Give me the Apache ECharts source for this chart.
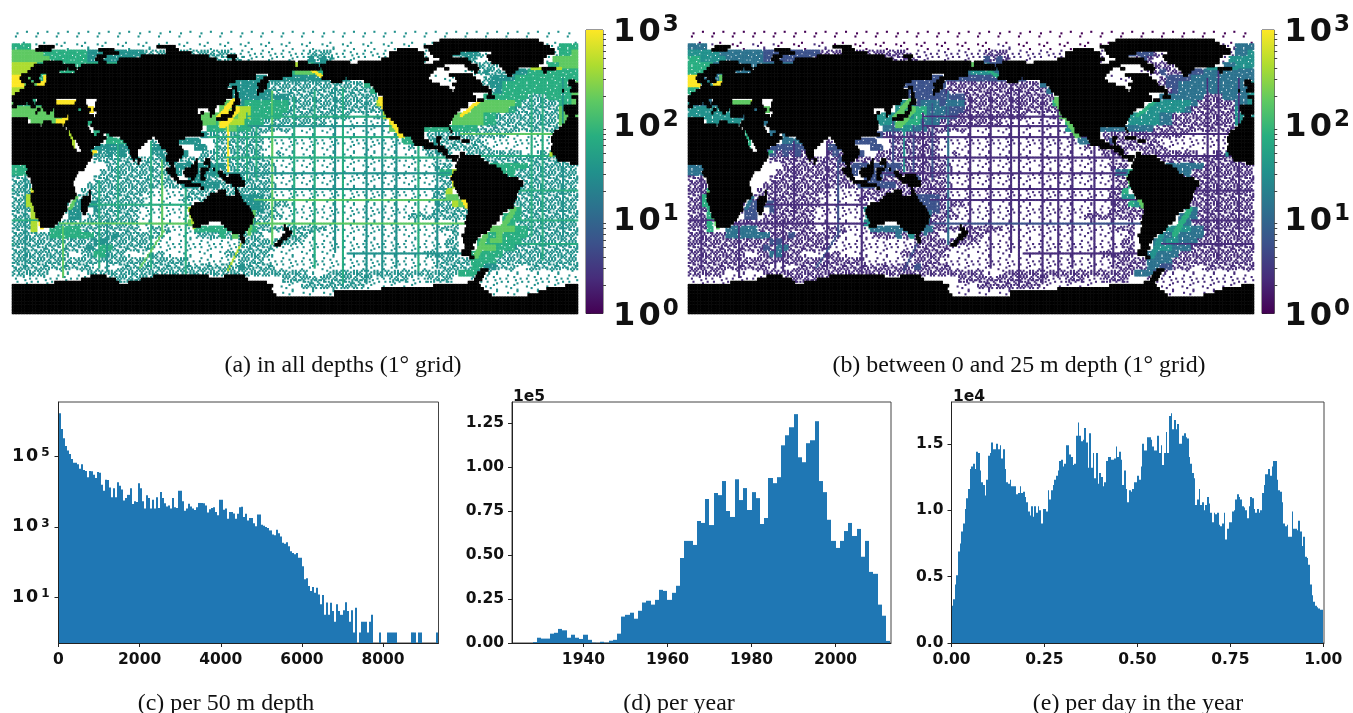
<!DOCTYPE html>
<html><head><meta charset="utf-8">
<style>html,body{margin:0;padding:0;background:#fff}#c{width:1353px;height:713px}</style>
<script src="https://cdn.jsdelivr.net/npm/echarts@6/dist/echarts.min.js"></script>
</head><body><div id="c"></div>
<script>
// ---------- histogram (c): log10(count)*100 per 50 m bin
const depthLog=[623,578,552,530,517,507,493,482,482,478,465,478,462,459,441,459,458,448,439,456,454,420,403,434,433,412,384,410,384,427,417,406,375,382,391,410,365,373,371,424,410,373,352,390,382,352,377,352,384,354,399,382,367,358,361,352,382,356,354,403,403,373,346,352,366,358,352,348,356,368,368,367,361,341,350,354,356,342,333,377,377,349,352,323,342,342,338,323,337,356,357,328,337,318,325,325,310,302,335,335,306,303,300,297,290,278,276,292,282,273,255,252,256,245,231,226,222,226,212,212,188,151,154,132,118,129,113,127,108,80,106,50,85,50,84,61,30,80,61,50,63,86,61,30,63,0,70,null,0,30,30,30,0,30,50,null,null,null,0,null,null,null,0,0,0,0,0,null,null,null,null,null,null,null,0,0,null,0,0,null,null,null,null,null,null,null,0];
// ---------- histogram (d): counts per year in units of 1e5
const firstYear=1928;
const yearCounts=[.005,.03,.025,.025,.053,.058,.08,.072,.03,.047,.03,.023,.047,.018,.002,.001,.007,.002,.013,.018,.053,.15,.16,.172,.138,.183,.23,.24,.218,.245,.302,.296,.245,.285,.325,.483,.58,.58,.557,.693,.682,.818,.67,.852,.84,.92,.75,.716,.93,.812,.88,.755,.857,.823,.676,.71,.937,.908,.942,1.123,1.18,1.225,1.3,1.055,1.027,1.135,1.152,1.26,.92,.857,.7,.58,.54,.58,.636,.682,.608,.648,.49,.58,.404,.393,.218,.155,.012];
// ---------- histogram (e): counts per bin in units of 100
const dayCounts=[28,33,44,51,69,75,84,90,101,109,116,131,133,135,131,144,143,130,121,119,111,123,141,143,151,146,146,150,146,149,139,146,131,121,120,123,118,118,118,112,113,118,113,114,110,106,99,96,103,95,103,98,103,100,90,101,101,99,115,108,115,119,123,126,130,137,138,133,135,149,149,142,140,134,135,156,166,156,152,153,162,151,132,158,132,143,124,143,120,128,125,118,121,137,140,140,138,138,139,148,140,144,138,119,130,116,106,115,114,116,121,121,126,123,133,150,145,145,155,155,153,148,145,145,156,143,149,134,143,159,143,171,173,161,168,161,165,150,150,156,158,155,154,140,135,128,124,104,108,116,104,106,100,104,110,105,98,91,98,97,98,89,88,90,98,78,86,91,91,99,100,108,112,110,108,103,102,100,94,103,110,109,101,98,101,98,100,113,119,127,127,131,126,133,137,137,123,115,114,106,90,88,89,80,80,99,86,86,85,92,84,73,80,65,64,59,44,36,31,28,27,26,25,25];
// ---------- tick labels / captions
const depthTicks=[0,2000,4000,6000,8000], depthLogTicks=[10,1000,100000];
const yearTicks=[1940,1960,1980,2000], yearYTicks=[0,.25,.5,.75,1,1.25];
const dayXTicks=[0,.25,.5,.75,1], dayYTicks=[0,50,100,150];
const captions=[["(a) in all depths (1° grid)",342,349],["(b) between 0 and 25 m depth (1° grid)",1018,349],["(c) per 50 m depth",225,687],["(d) per year",678,687],["(e) per day in the year",1137,687]];
const minorValues=[2,3,4,5,6,7,8,9,20,30,40,50,60,70,80,90,200,300,400,500,600,700,800,900];
const viridis=['#440154','#472d7b','#3b528b','#2c728e','#21918c','#28ae80','#5ec962','#addc30','#fde725'];
// ---------- land rows: latitude band centre (2 deg tall) and lon runs, black cells
const landRows=[[84,"272-335"],[82,"268-338"],[80,"17-27 92-104 262-342"],[78,"15-25 55-65 98-106 245-258 265-345"],[76,"58-68 98-114 240-262 266-285 305-345"],[74,"54-60 82-125 137-143 240-262 268-280 302-340"],[72,"53-58 68-130 140-142 235-265 272-290 303-338"],[70,"20-32 55-60 67-180 182-188 200-215 220-262 268-292 305-338"],[68,"14-40 44-180 182-195 196-275 288-296 310-335"],[66,"12-35 36-41 42-180 180-196 197-270 275-278 290-297 312-322 337-346"],[64,"10-30 40-178 198-268 294-296 314-320 338-340"],[62,"6-18 22-30 30-155 163-178 198-266 278-293 315-318"],[60,"5-10 12-17 22-155 160-172 197-212 213-265 282-295"],[58,"6-12 14-18 22-142 158-163 203-210 224-267 283-298 354-358"],[56,"9-14 21-138 156-162 228-272 280-299 354-360"],[54,"8-20 20-137 140-143 157-162 230-278 282-303 356-360"],[52,"5-140 142-143 156-160 231-280 281-305 350-351 355-360"],[50,"2-140 142-144 156-157 233-293 303-305"],[48,"0-140 142-144 236-295 302-307 356-360"],[46,"0-13 16-28 41-47 54-136 142-145 236-295 296-300 359-360"],[44,"1-9 10-14 15-28 40-47 53-135 141-145 236-290 359-360"],[42,"0-3 12-15 19-28 28-41 41-48 53-127 127-130 140-142 236-290 351-360"],[40,"16-18 20-26 27-42 44-50 52-118 125-129 140-142 236-285 351-360"],[38,"15-16 22-24 27-49 54-118 120-122 126-129 138-141 237-283 352-360"],[36,"27-35 36-52 53-120 126-127 133-140 238-281 354-358"],[34,"0-10 36-51 51-120 130-137 241-280 353-360"],[32,"0-10 20-25 34-48 51-121 243-279 352-360"],[30,"0-18 19-32 33-48 50-121 245-278 350-360"],[28,"0-34 35-49 52-121 246-262 278-279 348-360"],[26,"0-36 37-50 56-120 246-262 279-280 345-360"],[24,"0-36 38-52 54-58 62-120 120-122 249-262 344-360"],[22,"0-37 39-60 69-89 91-110 254-262 270-273 278-285 343-360"],[20,"0-38 41-58 71-86 93-106 255-265 270-272 286-291 343-360"],[18,"0-38 42-56 73-84 94-106 256-268 271-272 344-360"],[16,"0-39 43-52 74-82 95-108 262-275 343-360"],[14,"0-41 44-50 75-80 98-109 271-277 343-360"],[12,"0-43 43-51 75-80 99-109 274-277 285-288 344-360"],[10,"0-51 76-80 98-108 276-284 285-298 346-360"],[8,"0-50 77-78 80-82 98-106 117-118 123-126 280-283 284-300 347-360"],[6,"0-48 80-81 100-103 116-118 122-126 283-303 355-360"],[4,"9-47 101-103 114-118 125-126 282-308"],[2,"10-46 98-104 110-118 120-125 128-129 283-311"],[0,"9-42 99-104 109-118 120-123 131-134 281-312"],[-2,"10-41 101-105 110-117 120-122 132-136 138-145 280-315"],[-4,"12-40 103-106 114-116 120-123 134-146 279-322"],[-6,"12-39 105-114 136-148 281-325"],[-8,"13-39 110-120 140-148 281-325"],[-10,"13-40 120-122 142-143 282-323"],[-12,"14-40 49-50 131-136 142-144 283-322"],[-14,"12-41 49-50 126-136 142-145 284-321"],[-16,"12-40 45-50 124-146 285-321"],[-18,"12-37 44-50 122-147 289-320"],[-20,"13-35 44-49 116-149 290-319"],[-22,"14-35 44-48 114-151 290-319"],[-24,"14-35 44-48 113-152 290-315"],[-26,"15-33 45-47 113-153 290-312"],[-28,"15-32 114-154 289-310"],[-30,"17-31 115-153 289-310"],[-32,"18-29 116-125 133-153 288-308"],[-34,"18-27 115-120 135-151 173-174 289-305"],[-36,"137-150 173-176 288-304"],[-38,"140-148 174-178 288-302"],[-40,"145-147 172-177 286-298"],[-42,"145-148 171-175 287-296"],[-44,"146-148 169-172 287-295"],[-46,"167-171 288-293"],[-48,"288-294"],[-50,"286-292"],[-52,"286-292"],[-54,"291-294"],[-62,"298-303"],[-64,"296-301"],[-66,"50-60 90-125 135-148 295-300"],[-68,"44-66 82-150 294-299"],[-70,"27-68 74-162 290-297"],[-72,"0-166 268-298 352-360"],[-74,"0-165 235-300 340-360"],[-76,"0-166 205-303 335-360"],[-78,"0-168 205-305 328-360"],[-80,"0-360"],[-82,"0-360"],[-84,"0-360"],[-86,"0-360"],[-88,"0-360"],[-90,"0-360"]];
// ---------- ocean blocks, 4 deg each, one row per 4 deg from 90N; groups of 10 blocks = 40 deg.
// digit = level filled, lower case = same level partly covered (a=1..i=9), upper case = sparse, ~ = isolated cells
const blank="~~~~~~~~~~ ~~~~~~~~~~ ~~~~~~~~~~ ~~~~~~~~~~ ~~~~~~~~~~ ~~~~~~~~~~ ~~~~~~~~~~ ~~~~~~~~~~ ~~~~~~~~~~";
const oceanA=[blank,blank,
"666EEE~~~~ EEEE~~~~~~ EE~~~~~~~~ ~~~~~~~~~~ ~~~~~~~~EE EE~~~~~~~~ ~~~~~~~~~~ ~~~~~~~~~~ ~~~~EEE666",
"7777766666 6655555555 5eeeeeeeee eeeeeEEEEE EEEEEEEeee eEEEEEEEEE EEEEEE.... 5555eEEEE. ....EEE667",
"7777776666 6655555555 eeeeeeeeee eeeeeeeEEE EEEEEEE5e5 eEEEEEE.EE EEEEEE.... EE5eEE.... .....E7777",
"8888666666 6666666666 666666666e eeeeeeeeee eeeee86655 eee....... .......... ...eeeeEEE ....E66777",
"8886666666 6666666666 .......... .......... ...6677766 ee........ .......... ..Eee5eee5 5566666666",
"9976699966 .......... .......... .....55555 5555555555 5555...... .......EEE EE...e5555 6666666666",
"9977999666 .......... .......... ....555555 5eeeeeeeee eeeeee6... .......... ...eee5566 6666666667",
"8877799666 .......... .......... .....55555 5eeeeeeeee eeeeeee6.. .......... ......e566 6666666667",
"8866666... .......... .......... .....55555 5555eeeeee eeeeeeeee7 7......... .....66666 66eee66667",
"7666666999 9.....e... .......... ...7775666 6666eeeeee eeeeeeee88 .......... ....777777 6eeeeee667",
"7777777666 669.ee.... .......... ...7778866 6666eeeeee eeeeeeeee8 8......... ...7777776 eeeeeee776",
"7777777799 9.....e... .......... 7777778866 666eeeeeee eeeeEEEEe8 8......... 7777766eee eeeeeee777",
"...7777999 ..6....... .......... 7778888666 eeeeeeeeee EEEEEEEEEE 88........ 7777766eee eeeeeee777",
".........8 ...66..... .......... .6667766ee eeeeEEEEEE EEEEEEEEEE 77...66666 6666eeeeee eeeeeeeee6",
".........8 ...6.6.... .......... 5eeeeeeeee EEEEEEEEEE EEEEEEEEEE E66...eeee eeeeeeeeeE EEEEEEeee6",
".........8 .....66666 ..e...5555 ..eeeeeeee EEEEEEEEEE EEEEEEEEEE EE66..e5ee eeeeeEEEEE EEEEEEEee6",
".........8 .55555555e ..555....5 5.eeeeeeee EEEEEEEEEE EEEEEEEEEE EEEe.eeeee eeeeeeEEEE EEEEEEee66",
".......... ..e5e5e5e5 ..e5e5e5.. eeeeeeeeee EEeEEEEEEE EEEEEEEEEE EEEEEEeeee ..eeeeeeee eEEEeeee6.",
".......... ...eeeeeee eeee55eeee eeeeeeeeee eEEEEEEEEE EEEEEEEEEE EEEEEEEEEe ..6eeeeeee eeeeeeeee6",
"6666...... .....eeeee eeeeee5555 5555eeeeee eeEEEEEEEE EEEEEEEEEE EEEEEEEeee ....ee6666 66eeeeeeee",
"6666...... ....eeeeee eeeeee5.55 555eeeeeee eeEEEEEEEE EEEEEEEEEE EEEEEEEE66 8...ee6666 eeeeeeeeee",
"eeee...... ...eeeeeee eeeeee..55 5eeeee5eee eEEEEEEEEE EEEEEEEEEE EEEEEEEEee 8.......e6 eeeeeeeeee",
"eee....... ..eeeeeeee eeeeeee555 555eeeeeee eeEEEEEEEE EEEEEEEEEE EEEEEEEEee 88.......e eeeeeeeeee",
"eee8...... .eeeeeeeee eeEEEEEEee eeeeeeeeee eEEEEEEEEE EEEEEEEEEE EEEEEEEee8 .........e eeeeeeeeee",
"ee88...... eeeeeeeeee eEEEEEEeee eeeeee5555 eeEEEEEEEE EEEEEEEEEE EEEEEEEee7 7.......ee eeeeeeeeee",
"ee88...ee. 5.55eeeeee eEEEEEEEEE eeee..5555 eeeeEEEEEE EEEEEEEEEE EEEEEEEeee 877......e eeeeeeeeee",
"eee8....e5 5..5eeeeee EEEEEEEEEE EE.....555 eeEEEEEEEE EEEEEEEEEE EEEEEEEeee eee7.....6 6eeeeeeeee",
"eee8.....5 5.eeeeeeee EEEEEEEEEe .......eee eeeEEEEEEE EEEEEEEEEE EEEeeeeeee eee.....66 6eeeeeeeee",
"eee8...eee eeeeeeeeee EEEEEEEE7. .......6ee eEEEEEEEEE EEEEEEEEEE EEEEEEEEEE e.......66 eeeeeeeeee",
"eee8..6666 6eeeeeeeee EEeeeEEEE6 666666666e eeeeeeeeee EEEEEEEEEE EEEEEEEEee e.....7777 66eeeeeeee",
"eeeeee6666 666eee5eee eeeeEEEEEe eee6e7eeee ...eeeeEEE EEEEEEEEEE EEEEEEEEEE eE...66766 66eeeeeeee",
"eeeeeeeeee eee55eeeee eeEEEEEEEE EEEEEEeeee eeeeeeEEEE EEEEEEEEEE EEEEEEEEEe e...667766 6eeeeeeeee",
"eeeeeeeeee ee5e66eeee eeEEEEEEEE EEEEEEeeee eeEEEEEEEE EEEEEEEEEE EEEEEEEEEe e...677666 eeeeeeeeee",
"eeeeeeeeeE Eee66eeeEE EEeeEEEEEE EEEEeeeeee eEEEEEEEEE EEEEEEEEEE EEEEEEeeee e..66666ee eeeeeeeeee",
"eeeeeeeeee eeeeeeeeee eeeeeeeeEE EEEEEEeeee EEEEEEEEEE EEEEEEEEEE EEEEEEEEee eee6666eee eeeeeeeeee",
"eeeeeeeeee eeeEEEEeee eeeeeeeeee eeeeee5eee eeEEEEEEEE EEEEEEEEEE EEEEEEEEee eee6655eee EEeeeeeeee",
"eeeeeeEEEE EEeeeeeeee eeeeeeeeee eeeeeeeeee eeeeeeeEEE eeeeeeeeee eeeeeeeeee e6665eEEEE EEEEEEEEEE",
"EEEEEEEEEE EEEEeeeeee eee....... .......... ...eeeeeee eeeeeeeEEE eeeEEEeeee ...eEEEEEE EEEEEEEEEE",
"EEEEEEEE.. .......... .......... .......... ..EEEEeeee eeeeeeEEEE EEEEE..... ..EEEEEEEE EEEEEEEEEE",
".......... .......... .......... .......... ..EEEEEEEE EE........ .......... ....EEEEEE EEEEEE...."];
const oceanB=[blank,blank,
"444BBB~~~~ BBBB~~~~~~ BB~~~~~~~~ ~~~~~~~~~~ ~~~~~~~~BB BB~~~~~~~~ ~~~~~~~~~~ ~~~~~~~~~~ ~~~~BBB444",
"5555544444 4433333333 3bbbbbbbbb bbbbbBBBBB BBBBBBBbbb bBBBBBBBBB BBBBBB.... 3333bBBBB. ....BBB445",
"6655554444 4433333333 bbbbbbbbbb bbbbbbbBBB BBBBBBB3b3 bBBBBBB.BB BBBBBB.... BB3bBB.... .....B5555",
"6666444444 4444444444 444444444b bbbbbbbbbb bbbbb74433 bbb....... .......... ...bbbbBBB ....B44555",
"6664444444 4444444444 .......... .......... ...4455544 bb........ .......... ..Bbb3bbb3 3344444444",
"9944477744 .......... .......... .....33333 3333333333 3333...... .......BBB BB...b3333 4444444444",
"9955999444 .......... .......... ....333333 3bbbbbbbbb bbbbbb4... .......... ...bbb3344 4444444445",
"6655788444 .......... .......... .....33333 3bbbbbbbbb bbbbbbb4.. .......... ......b344 4444444445",
"6644444... .......... .......... .....33333 3333bbbbbb bbbbbbbbb5 5......... .....44444 44bbb44445",
"5444444777 8.....b... .......... ...5553444 3444bbbbbb bbbbbbbb66 .......... ....555555 4bbbbbb445",
"5555555444 447.bb.... .......... ...5556644 4333bbbbbb bbbbbbbbb7 7......... ...5555554 bbbbbbb554",
"5555555544 5.....b... .......... 5555556644 433bbbbbbb bbbbBBBBb7 7......... 5555544bbb bbbbbbb555",
"...5555555 ..4....... .......... 5556666444 bbbbbbbbbb BBBBBBBBBB 66........ 5555544bbb bbbbbbb555",
".........6 ...44..... .......... .4445544bb bbbbBBBBBB BBBBBBBBBB 55...44444 4444bbbbbb bbbbbbbbb4",
".........6 ...4.4.... .......... 3bbbbbbbbb BBBBBBBBBB BBBBBBBBBB B44...bbbb bbbbbbbbbB BBBBBBbbb4",
".........6 .....44444 ..b...3333 ..bbbbbbbb BBBBBBBBBB BBBBBBBBBB BB44..b3bb bbbbbBBBBB BBBBBBBbb4",
".........6 .33333333b ..333....3 3.bbbbbbbb BBBBBBBBBB BBBBBBBBBB BBBb.bbbbb bbbbbbBBBB BBBBBBbb44",
".......... ..b3b3b3b3 ..b3b3b3.. bbbbbbbbbb BBbBBBBBBB BBBBBBBBBB BBBBBBbbbb ..bbbbbbbb bBBBbbbb4.",
".......... ...bbbbbbb bbbb33bbbb bbbbbbbbbb bBBBBBBBBB BBBBBBBBBB BBBBBBBBBb ..4bbbbbbb bbbbbbbbb4",
"4444...... .....bbbbb bbbbbb3333 3333bbbbbb bbBBBBBBBB BBBBBBBBBB BBBBBBBbbb ....bb4444 44bbbbbbbb",
"4444...... ....bbbbbb bbbbbb3.33 333bbbbbbb bbBBBBBBBB BBBBBBBBBB BBBBBBBB44 6...bb4444 bbbbbbbbbb",
"bbbb...... ...bbbbbbb bbbbbb..33 3bbbbb3bbb bBBBBBBBBB BBBBBBBBBB BBBBBBBBbb 6.......b4 bbbbbbbbbb",
"bbb....... ..bbbbbbbb bbbbbbb333 333bbbbbbb bbBBBBBBBB BBBBBBBBBB BBBBBBBBbb 66.......b bbbbbbbbbb",
"bbb6...... .bbbbbbbbb bbBBBBBBbb bbbbbbbbbb bBBBBBBBBB BBBBBBBBBB BBBBBBBbb6 .........b bbbbbbbbbb",
"bb66...... bbbbbbbbbb bBBBBBBbbb bbbbbb3333 bbBBBBBBBB BBBBBBBBBB BBBBBBBbb5 5.......bb bbbbbbbbbb",
"bb66...bb. 3.33bbbbbb bBBBBBBBBB bbbb..3333 bbbbBBBBBB BBBBBBBBBB BBBBBBBbbb 655......b bbbbbbbbbb",
"bbb6....b3 3..3bbbbbb BBBBBBBBBB BB.....333 bbBBBBBBBB BBBBBBBBBB BBBBBBBbbb bbb5.....4 4bbbbbbbbb",
"bbb6.....3 3.bbbbbbbb BBBBBBBBBb .......bbb bbbBBBBBBB BBBBBBBBBB BBBbbbbbbb bbb.....44 4bbbbbbbbb",
"bbb6...bbb bbbbbbbbbb BBBBBBBB5. .......4bb bBBBBBBBBB BBBBBBBBBB BBBBBBBBBB b.......44 bbbbbbbbbb",
"bbb6..4444 4bbbbbbbbb BBbbbBBBB4 444444444b bbbbbbbbbb BBBBBBBBBB BBBBBBBBbb b.....5555 44bbbbbbbb",
"bbbbbb4444 444bbb3bbb bbbbBBBBBb bbb4b5bbbb ...bbbbBBB BBBBBBBBBB BBBBBBBBBB bB...44544 44bbbbbbbb",
"bbbbbbbbbb bbb33bbbbb bbBBBBBBBB BBBBBBbbbb bbbbbbBBBB BBBBBBBBBB BBBBBBBBBb b...445544 4bbbbbbbbb",
"bbbbbbbbbb bb3b44bbbb bbBBBBBBBB BBBBBBbbbb bbBBBBBBBB BBBBBBBBBB BBBBBBBBBb b...455444 bbbbbbbbbb",
"bbbbbbbbbB Bbb44bbbBB BBbbBBBBBB BBBBbbbbbb bBBBBBBBBB BBBBBBBBBB BBBBBBbbbb b..44444bb bbbbbbbbbb",
"bbbbbbbbbb bbbbbbbbbb bbbbbbbbBB BBBBBBbbbb BBBBBBBBBB BBBBBBBBBB BBBBBBBBbb bbb4444bbb bbbbbbbbbb",
"bbbbbbbbbb bbbBBBBbbb bbbbbbbbbb bbbbbb3bbb bbBBBBBBBB BBBBBBBBBB BBBBBBBBbb bbb4433bbb BBbbbbbbbb",
"bbbbbbBBBB BBbbbbbbbb bbbbbbbbbb bbbbbbbbbb bbbbbbbBBB bbbbbbbbbb bbbbbbbbbb b4443bBBBB BBBBBBBBBB",
"BBBBBBBBBB BBBBbbbbbb bbb....... .......... ...bbbbbbb bbbbbbbBBB bbbBBBbbbb ...bBBBBBB BBBBBBBBBB",
"BBBBBBBB.. .......... .......... .......... ..BBBBbbbb bbbbbbBBBB BBBBB..... ..BBBBBBBB BBBBBBBBBB",
".......... .......... .......... .......... ..BBBBBBBB BB........ .......... ....BBBBBB BBBBBB...."];
// ---------- ship tracks and hot coasts: lon0,lat0,lon1,lat1, levelA, levelB, width
const tracks=[[130,34,130,-2,6,3,1],[137,33,137,0,9,5,1],[143,30,143,-4,6,3,1],[149,38,149,-4,6,2,1],[155,44,155,-4,6,3,1],[165,52,165,-45,7,4,1],[179,48,179,-40,6,2,1],[192,52,192,-60,6,2,1],[205,56,205,-50,5,2,1],[210,54,210,-70,6,2,1],[225,50,225,-70,5,2,1],[235,48,235,-66,5,2,1],[244,30,244,-60,5,2,1],[258,18,258,-62,6,2,1],[270,14,270,-60,5,2,1],[330,60,330,-40,6,2,1],[337,65,337,-55,6,2,1],[350,60,350,-40,5,2,1],[55,-5,55,-60,6,2,1],[67,20,67,-30,6,2,1],[88,20,88,-60,6,2,1],[95,8,95,-40,7,3,1],[110,-10,110,-66,6,2,1],[32,-34,32,-66,7,2,1],[60,-30,60,-62,5,2,1],[8,-5,8,-60,5,2,1],
[150,36,238,36,6,2,1],[150,30,240,30,5,2,1],[125,23,255,23,6,2,1],[135,10,282,10,6,2,1],[120,0,278,0,5,2,1],[150,-10,276,-10,5,2,1],[154,-17,288,-17,7,2,1],[155,-32,288,-32,7,3,1],[30,-32,113,-32,7,2,1],[45,-20,112,-20,6,2,1],[214,-51,288,-51,5,2,1],[285,25,345,25,7,2,1],[295,11,345,11,6,2,1],[310,-11,360,-11,6,2,1],[320,-30,360,-30,6,2,1],[0,-30,17,-30,6,2,1],[300,-45,360,-45,6,2,1],
[96,-37,81,-60,7,3,1],[146,-43,137,-62,8,3,1],[12,-12,18,-34,9,7,2],[112,-22,115,-34,8,5,2],[153,-24,150,-38,7,4,2],[233,48,246,26,9,7,4],[279,-2,288,-20,9,7,3],[141,42,132,32,9,7,4],[130,36,140,47,9,7,3],[318,-22,308,-38,7,6,3],[300,-38,294,-52,7,5,3],[190,66,196,62,9,6,2],[285,37,297,47,9,6,2],[330,67,348,67,8,5,2],[346,27,342,12,8,5,2],[36,-22,40,-15,7,4,2],[44,12,52,14,9,6,2]];
// hand-written coverage tile used to place the partly covered blocks' cells
const coverTile=["7395182640731","2860417395826","5193726084157","8406351972604","3172948506239","6950283714860","1847569230475","9236714085192","4508392617348","7163805942516","2795146380927"];

const lvl=d=>(d-1)*3/8;
function buildMap(ocean,levIdx,dotLevel){
  const cells=new Float32Array(64800).fill(NaN);
  const isLand=new Uint8Array(64800);
  ocean.forEach((s,r)=>{
    s.split(' ').forEach((g,gi)=>{
      for(let b=0;b<10;b++){
        const ch=g[b]; if(!ch||ch==='.')continue;
        let level,lim,dot=false;
        if(ch==='~'){level=dotLevel;lim=1;dot=true;}
        else if(ch>='1'&&ch<='9'){level=+ch;lim=+ch>=7?10:9;}
        else if(ch>='a'&&ch<='i'){level=ch.charCodeAt(0)-96;lim=4;}
        else {level=ch.charCodeAt(0)-64;lim=1;}
        for(let i=0;i<4;i++)for(let j=0;j<4;j++){
          const lon=(gi*10+b)*4+i,row=r*4+j;
          if(+coverTile[row%11][lon%13]<lim&&(!dot||+coverTile[(row+4)%11][(lon+5)%13]<4))cells[row*360+lon]=lvl(level);
        }
      }
    });
  });
  tracks.forEach(t=>{
    const n=Math.max(Math.abs(t[2]-t[0]),Math.abs(t[3]-t[1]));
    for(let i=0;i<=n;i++){
      const lon=Math.round(t[0]+(t[2]-t[0])*i/n),row=Math.round(90-(t[1]+(t[3]-t[1])*i/n));
      for(let k=0;k<t[6];k++)for(let m=0;m<t[6];m++){
        const r=Math.min(179,Math.max(0,row+m));
        cells[r*360+((lon+k)%360)]=lvl(t[levIdx]);
      }
    }
  });
  landRows.forEach(([lat,runs])=>{
    const r0=Math.max(0,90-(lat+1));
    for(let r=r0;r<r0+2&&r<180;r++)runs.split(' ').forEach(run=>{
      const [a,b]=run.split('-').map(Number);
      for(let lon=a;lon<b;lon++)isLand[r*360+lon]=1;
    });
  });
  const sea=[],land=[];
  for(let r=0;r<180;r++)for(let c=0;c<360;c++){
    if(isLand[r*360+c])land.push([c,r,1]);
    else{const v=cells[r*360+c];if(!isNaN(v))sea.push([c,r,v]);}
  }
  return {sea,land};
}
const lonCats=Array.from({length:360},(_,i)=>i),rowCats=Array.from({length:180},(_,i)=>i);
const TICK='"DejaVu Sans",sans-serif';
const tickStyle={fontFamily:TICK,fontWeight:'bold',fontSize:15.5,color:'#111'};
const line={lineStyle:{color:'#222',width:1}};
const chart=echarts.init(document.getElementById('c'),null,{renderer:'canvas'});

const grids=[{left:12,top:31,width:566,height:283},{left:586,top:30,width:17,height:283.5,show:true,borderColor:'#333',borderWidth:1},
{left:688,top:31,width:566,height:283},{left:1262,top:30,width:17,height:283.5,show:true,borderColor:'#333',borderWidth:1},
{left:58.5,top:402,width:380,height:241,show:true,borderColor:'#444',borderWidth:1},
{left:512,top:402,width:379,height:241,show:true,borderColor:'#444',borderWidth:1},
{left:951.5,top:402,width:372.5,height:241,show:true,borderColor:'#444',borderWidth:1}];
const hide={show:false};
const cbY=(g)=>({gridIndex:g,type:'value',min:0,max:3,interval:1,position:'right',axisLine:hide,splitLine:hide,axisTick:{length:5,lineStyle:{color:'#222'}},
  axisLabel:{margin:10,padding:[6,0,0,0],formatter:v=>`{b|1\u200a0}{s|${v}}`,rich:{b:{fontFamily:TICK,fontWeight:'bold',fontSize:32,color:'#111'},s:{fontFamily:TICK,fontWeight:'bold',fontSize:23,color:'#111',padding:[0,0,15,2]}}}});
const xAxis=[
 {gridIndex:0,type:'category',data:lonCats,show:false},
 {gridIndex:1,type:'value',min:0,max:1,show:false},
 {gridIndex:2,type:'category',data:lonCats,show:false},
 {gridIndex:3,type:'value',min:0,max:1,show:false},
 {gridIndex:4,type:'value',min:0,max:9366,splitLine:hide,axisLine:{onZero:false,...line},axisTick:{length:4,customValues:depthTicks,...line},axisLabel:{...tickStyle,margin:9,customValues:depthTicks,formatter:v=>String(v)}},
 {gridIndex:5,type:'value',min:1923,max:2013.2,splitLine:hide,axisLine:{onZero:false,...line},axisTick:{length:4,customValues:yearTicks,...line},axisLabel:{...tickStyle,margin:9,customValues:yearTicks,formatter:v=>String(v)}},
 {gridIndex:6,type:'value',min:0,max:1.002,splitLine:hide,axisLine:{onZero:false,...line},axisTick:{length:4,customValues:dayXTicks,...line},axisLabel:{...tickStyle,margin:9,customValues:dayXTicks,formatter:v=>v.toFixed(2)}}];
const yAxis=[
 {gridIndex:0,type:'category',data:rowCats,inverse:true,show:false},cbY(1),
 {gridIndex:2,type:'category',data:rowCats,inverse:true,show:false},cbY(3),
 {gridIndex:4,type:'log',min:0.5,max:3.55e6,splitLine:hide,minorTick:hide,axisLine:line,axisTick:{length:4,customValues:depthLogTicks,...line},
  axisLabel:{margin:9,customValues:depthLogTicks,formatter:v=>`{b|1\u200a0}{s|${Math.round(Math.log10(v))}}`,rich:{b:{...tickStyle,fontSize:17.5},s:{...tickStyle,fontSize:12,padding:[0,0,7,3]}}}},
 {gridIndex:5,type:'value',min:0,max:136900,splitLine:hide,axisLine:line,axisTick:{length:4,customValues:yearYTicks.map(v=>v*1e5),...line},axisLabel:{...tickStyle,margin:8,customValues:yearYTicks.map(v=>v*1e5),formatter:v=>(v/1e5).toFixed(2)}},
 {gridIndex:6,type:'value',min:0,max:18150,splitLine:hide,axisLine:line,axisTick:{length:4,customValues:dayYTicks.map(v=>v*100),...line},axisLabel:{...tickStyle,margin:8,customValues:dayYTicks.map(v=>v*100),formatter:v=>(v/1e4).toFixed(1)}}];
const stops=viridis.map((c,i)=>({offset:i/8,color:c}));
const gradientBar=i=>({type:'custom',xAxisIndex:i,yAxisIndex:i,silent:true,data:[[0,0]],renderItem:(p,api)=>{const a=api.coord([0,3]),b=api.coord([1,0]);
  return {type:'rect',shape:{x:a[0],y:a[1],width:b[0]-a[0],height:b[1]-a[1]},style:{fill:new echarts.graphic.LinearGradient(0,1,0,0,stops)}};}});
const minorBar=i=>({type:'custom',xAxisIndex:i,yAxisIndex:i,silent:true,clip:false,data:minorValues.map(v=>[1,Math.log10(v)]),renderItem:(p,api)=>{const a=api.coord([api.value(0),api.value(1)]);
  return {type:'line',shape:{x1:a[0],y1:Math.round(a[1])+.5,x2:a[0]+3,y2:Math.round(a[1])+.5},style:{stroke:'#444',lineWidth:1}};}});
const BLUE='#1f77b4';
const heat=(i,data)=>({type:'heatmap',xAxisIndex:i,yAxisIndex:i,data,progressive:0,silent:true,itemStyle:{borderWidth:0}});
// histogram bars: bin start, bin end, count; positions come from the axes
const hist=(i,data)=>({type:'custom',xAxisIndex:i,yAxisIndex:i,silent:true,encode:{x:[0,1],y:2},data,renderItem:(p,api)=>{
  const a=api.coord([api.value(0),api.value(2)]),b=api.coord([api.value(1),api.value(2)]);
  const x0=Math.round(a[0]),x1=Math.round(b[0]),y=a[1],bottom=p.coordSys.y+p.coordSys.height;
  return {type:'rect',shape:{x:x0,y,width:x1-x0,height:bottom-y},style:{fill:BLUE}};}});
const mapA=buildMap(oceanA,4,5),mapB=buildMap(oceanB,5,1);
const option={animation:false,backgroundColor:'#fff',grid:grids,xAxis,yAxis,
 title:captions.map(c=>({text:c[0],left:c[1]-4,top:c[2],textAlign:'center',textStyle:{fontFamily:'"Liberation Serif",serif',fontWeight:'normal',fontSize:23.9,color:'#111'}}))
  .concat([["1e5",508,384],["1e4",948,384]].map(c=>({text:c[0],left:c[1],top:c[2],textStyle:{fontFamily:TICK,fontWeight:'bold',fontSize:15.5,color:'#111'}}))),
 visualMap:[
  {type:'continuous',show:false,seriesIndex:[0,4],dimension:2,min:0,max:3,inRange:{color:viridis}},
  {type:'continuous',show:false,seriesIndex:[1,5],dimension:2,min:0,max:2,inRange:{color:['#000','#000']}}],
 series:[heat(0,mapA.sea),heat(0,mapA.land),gradientBar(1),minorBar(1),heat(2,mapB.sea),heat(2,mapB.land),gradientBar(3),minorBar(3),
  hist(4,depthLog.map((v,i)=>v===null?null:[i*50,i*50+50,Math.pow(10,v/100)]).filter(Boolean)),
  hist(5,yearCounts.map((v,i)=>[firstYear+i,firstYear+i+1,v*1e5])),
  hist(6,dayCounts.map((v,i)=>[i/dayCounts.length,(i+1)/dayCounts.length,v*100]))]};
chart.setOption(option);
</script></body></html>
